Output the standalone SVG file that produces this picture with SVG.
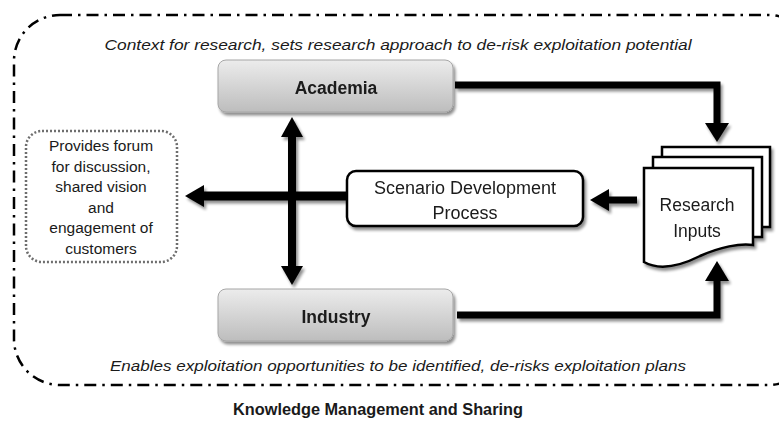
<svg xmlns="http://www.w3.org/2000/svg" width="779" height="423" viewBox="0 0 779 423">
  <defs>
    <linearGradient id="gray" x1="0" y1="0" x2="0" y2="1">
      <stop offset="0" stop-color="#ececec"/>
      <stop offset="1" stop-color="#bdbdbd"/>
    </linearGradient>
    <filter id="shadow" x="-10%" y="-10%" width="130%" height="140%">
      <feGaussianBlur in="SourceAlpha" stdDeviation="1.5"/>
      <feOffset dx="2" dy="2.5" result="o"/>
      <feComponentTransfer><feFuncA type="linear" slope="0.45"/></feComponentTransfer>
      <feMerge><feMergeNode/><feMergeNode in="SourceGraphic"/></feMerge>
    </filter>
    <style>
      .txt { font-family: "Liberation Sans", Arial, sans-serif; fill: #1a1a1a; }
      .it { font-style: italic; font-size: 15px; }
      .bold { font-weight: bold; }
      .gbox { fill: url(#gray); stroke: #a6a6a6; stroke-width: 1; }
      .page { fill: #ffffff; stroke: #000000; stroke-width: 2.5; stroke-linejoin: miter; }
      .shaft { fill: none; stroke: #000000; stroke-linejoin: miter; }
      .head { fill: #000000; }
    </style>
  </defs>
  <rect width="779" height="423" fill="#ffffff"/>

  <!-- outer boundary -->
  <rect x="14" y="15" width="800" height="370" rx="46" fill="none" stroke="#000" stroke-width="2.5" stroke-dasharray="12 6 2.5 6"/>

  <text class="txt it" x="398" y="50" text-anchor="middle" textLength="587" lengthAdjust="spacingAndGlyphs">Context  for research, sets research approach to de-risk exploitation potential</text>
  <text class="txt it" x="398" y="371" text-anchor="middle" textLength="576" lengthAdjust="spacingAndGlyphs">Enables exploitation opportunities to be identified, de-risks exploitation plans</text>

  <!-- connectors -->
  <g id="connectors" filter="url(#shadow)">
    <polyline class="shaft" points="455,85 717,85 717,125" stroke-width="7"/>
    <polygon class="head" points="705,123 729,123 717,142"/>
    <polyline class="shaft" points="457,315 717,315 717,279" stroke-width="7"/>
    <polygon class="head" points="705,281 729,281 717,261"/>
    <line class="shaft" x1="637" y1="200" x2="606" y2="200" stroke-width="7"/>
    <polygon class="head" points="609,189 609,211 590,200"/>
    <line class="shaft" x1="346" y1="196" x2="201" y2="196" stroke-width="9"/>
    <polygon class="head" points="204,185 204,207 185,196"/>
    <line class="shaft" x1="292" y1="134" x2="292" y2="268" stroke-width="8"/>
    <polygon class="head" points="281,137 303,137 292,117"/>
    <polygon class="head" points="281,266 303,266 292,285"/>
  </g>

  <g id="academia" filter="url(#shadow)">
    <rect class="gbox" x="218" y="60" width="235" height="52" rx="8"/>
    <text class="txt bold" x="336" y="94" font-size="17.5" text-anchor="middle">Academia</text>
  </g>

  <g id="industry" filter="url(#shadow)">
    <rect class="gbox" x="218" y="289" width="235" height="52" rx="8"/>
    <text class="txt bold" x="336" y="323" font-size="17.5" text-anchor="middle">Industry</text>
  </g>

  <g id="scenario" filter="url(#shadow)">
    <rect x="347" y="171" width="236" height="55" rx="9" fill="#ffffff" stroke="#000" stroke-width="2.5"/>
    <text class="txt" x="465" y="194" font-size="18" text-anchor="middle">Scenario Development</text>
    <text class="txt" x="465" y="219" font-size="18" text-anchor="middle">Process</text>
  </g>

  <g id="forum">
    <rect x="26" y="131" width="151" height="131" rx="16" fill="#ffffff" stroke="#6e6e6e" stroke-width="2.5" stroke-dasharray="2 2"/>
    <g class="txt" font-size="15.5" text-anchor="middle">
      <text x="101" y="151">Provides forum</text>
      <text x="101" y="172">for discussion,</text>
      <text x="101" y="192">shared vision</text>
      <text x="101" y="213">and</text>
      <text x="101" y="233">engagement of</text>
      <text x="101" y="254">customers</text>
    </g>
  </g>

  <g id="research-inputs" filter="url(#shadow)">
    <rect class="page" x="662" y="147" width="108" height="80"/>
    <rect class="page" x="653" y="157" width="109" height="80"/>
    <path class="page" d="M644,168 L753,168 L753,245 C740,243 720,247 700,256 C680,266 660,271 644,262 Z"/>
    <text class="txt" x="697" y="211" font-size="17.5" text-anchor="middle">Research</text>
    <text class="txt" x="697" y="237" font-size="17.5" text-anchor="middle">Inputs</text>
  </g>

  <text class="txt bold" x="378" y="415" font-size="16" text-anchor="middle" textLength="290" lengthAdjust="spacingAndGlyphs">Knowledge Management and Sharing</text>
</svg>
